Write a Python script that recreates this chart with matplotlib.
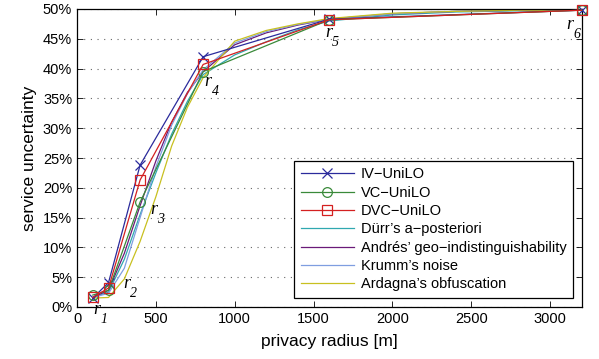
import matplotlib
matplotlib.use("Agg")
from matplotlib import pyplot as plt

# radii of the six reference points r1..r6
radius = [100, 200, 400, 800, 1600, 3200]
iv_unilo = [1.5, 4.1, 23.8, 42.0, 48.3, 49.8]
vc_unilo = [2.0, 2.8, 17.6, 39.5, 48.2, 49.8]
dvc_unilo = [1.6, 3.2, 21.3, 40.7, 48.2, 49.8]

# the baseline methods are sampled more densely
radius_fine = [100, 200, 300, 400, 500, 600, 700, 800, 1000, 1200, 1400, 1600, 2000, 2400, 2800, 3200]
durr = [1.6, 2.5, 8.0, 15.5, 22.5, 29.0, 34.5, 39.0, 42.3, 44.5, 46.5, 48.0, 49.0, 49.5, 49.7, 49.8]
andres = [1.6, 2.8, 9.0, 17.0, 24.5, 31.0, 36.0, 39.5, 44.0, 46.0, 47.3, 48.3, 49.2, 49.6, 49.8, 49.8]
krumm = [1.6, 2.3, 6.5, 15.0, 23.5, 30.5, 35.8, 39.8, 44.3, 46.2, 47.4, 48.3, 49.2, 49.6, 49.8, 49.8]
ardagna = [1.5, 1.6, 4.7, 11.0, 18.5, 27.0, 33.5, 38.5, 44.6, 46.4, 47.5, 48.4, 49.3, 49.6, 49.8, 49.8]

point_names = ['1', '2', '3', '4', '5', '6']
label_offsets = [(4, -14), (18, 7), (13.5, -7), (5, -10), (-1, -13), (-12, -14)]

plt.rcParams['font.family'] = ['Liberation Sans', 'DejaVu Sans']

fig = plt.figure(figsize=(5.99, 3.59), dpi=100)
ax = fig.add_axes([77 / 599, 52 / 359, 504.7 / 599, 298 / 359])

lw = 0.9
ax.plot(radius, iv_unilo, color='#2b2b9c', lw=lw, marker='x', ms=7, mew=0.9, label='IV\u2212UniLO', zorder=5, clip_on=False)
ax.plot(radius, vc_unilo, color='#3a8a3a', lw=lw, marker='o', ms=7, mfc='none', mew=0.9, label='VC\u2212UniLO', zorder=5, clip_on=False)
ax.plot(radius, dvc_unilo, color='#d42020', lw=lw, marker='s', ms=7, mfc='none', mew=0.9, label='DVC\u2212UniLO', zorder=5, clip_on=False)
ax.plot(radius_fine, durr, color='#30a8b0', lw=lw, label='D\u00fcrr\u2019s a\u2212posteriori')
ax.plot(radius_fine, andres, color='#6a1a78', lw=lw, label='Andr\u00e9s\u2019 geo\u2212indistinguishability')
ax.plot(radius_fine, krumm, color='#7f9ee0', lw=lw, label='Krumm\u2019s noise')
ax.plot(radius_fine, ardagna, color='#c8c020', lw=lw, label='Ardagna\u2019s obfuscation')

# r_i labels: italic serif r with a lowered index
for x, y, name, off in zip(radius, vc_unilo, point_names, label_offsets):
    ax.annotate('r', xy=(x, y), xytext=off, textcoords='offset pixels', ha='center', va='center',
                fontsize=13, family='Liberation Serif', style='italic', annotation_clip=False, zorder=6)
    ax.annotate(name, xy=(x, y), xytext=(off[0] + 7, off[1] - 10), textcoords='offset pixels',
                ha='center', va='center', fontsize=10, family='Liberation Serif', style='italic',
                annotation_clip=False, zorder=6)

ax.set_xlim(0, 3200)
ax.set_ylim(0, 50)
ax.set_xticks(range(0, 3001, 500))
ax.set_yticks(range(0, 51, 5))
ax.set_yticklabels(['%d%%' % v for v in range(0, 51, 5)])
ax.tick_params(direction='in', top=True, right=True, labelsize=10.5, length=4, width=0.6)
ax.yaxis.grid(True, linestyle=(0, (1, 5)), color='#666666', lw=0.8)
for s in ax.spines.values():
    s.set_linewidth(0.9)

ax.set_xlabel('privacy radius [m]', fontsize=12.5, labelpad=6)
ax.set_ylabel('service uncertainty', fontsize=12.5, labelpad=4)

leg = ax.legend(loc='lower right', bbox_to_anchor=(0.983, 0.03), borderaxespad=0, fontsize=10.5,
                handlelength=3.6, labelspacing=0.3, borderpad=0.45, handletextpad=0.5,
                fancybox=False, framealpha=1, edgecolor='black')
leg.get_frame().set_linewidth(0.9)

fig.savefig('out.png', dpi=100)
